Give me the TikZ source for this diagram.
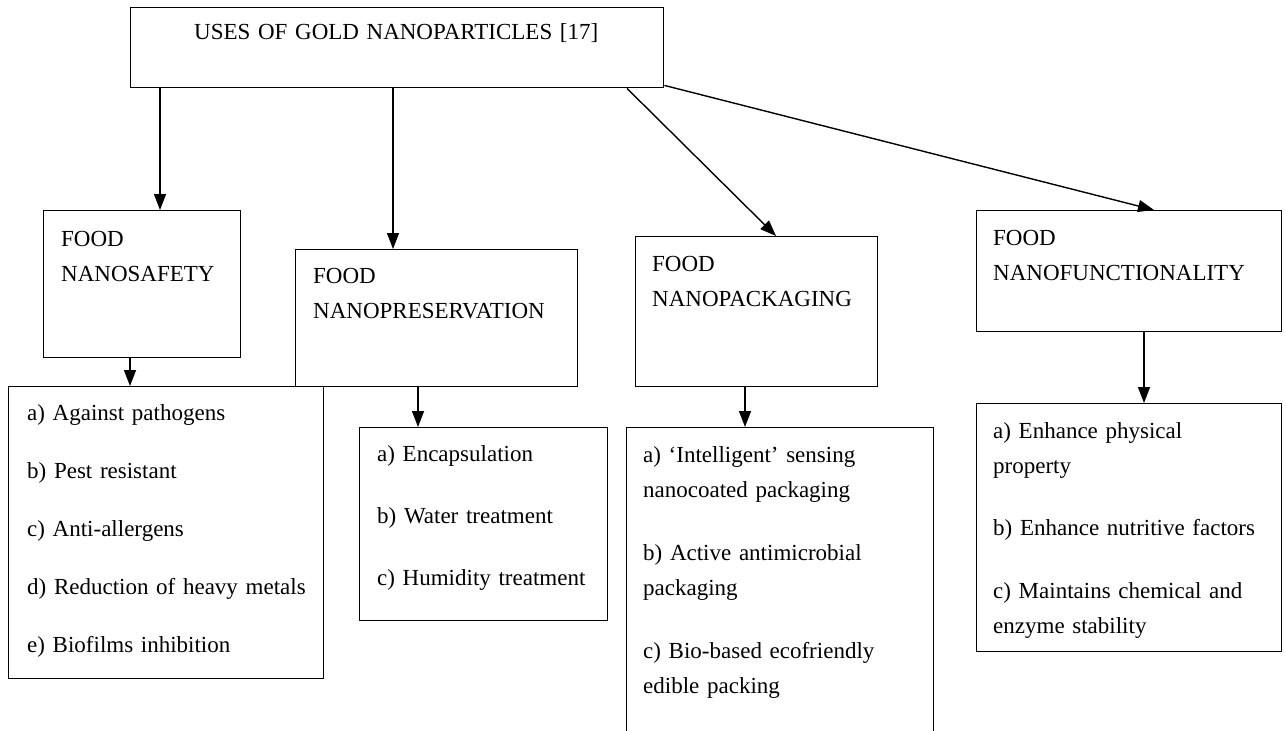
\documentclass[tikz,border=0pt]{standalone}
\usepackage{fontspec}
\setmainfont{Liberation Serif}
\usetikzlibrary{arrows.meta}

\tikzset{
  box/.style={draw, line width=1.4pt, inner sep=0pt, anchor=north west},
  txt/.style={inner sep=0pt, anchor=base west, text width=520pt, align=left,
    font=\fontsize{23}{35}\selectfont},
  arr/.style={line width=1.4pt, -{Triangle[length=16pt,width=12pt]}}
}

\begin{document}
\begin{tikzpicture}[x=1pt, y=-1pt]
    \useasboundingbox (0,0) rectangle (1286,731);
    \clip (0,0) rectangle (1286,731);

    % Define the boxes
    \node[box, minimum width=533, minimum height=80]  (uses)         at (130,7) {};
    \node[box, minimum width=197, minimum height=147] (safety)       at (43,210) {};
    \node[box, minimum width=282, minimum height=137] (preservation) at (295,249) {};
    \node[box, minimum width=242, minimum height=150] (packaging)    at (635,236) {};
    \node[box, minimum width=305, minimum height=121] (funct)        at (976,210) {};
    \node[box, minimum width=315, minimum height=292] (safetylist)   at (8,386) {};
    \node[box, minimum width=248, minimum height=193] (preslist)     at (359,427) {};
    \node[box, minimum width=307, minimum height=330] (packlist)     at (626,427) {};
    \node[box, minimum width=305, minimum height=248] (functlist)    at (976,403) {};

    % Texts of the boxes
    \node[txt] (usestext) at ([shift={(64,32)}]uses.north west) {USES OF GOLD NANOPARTICLES [17]};
    \node[txt] (safetytext) at ([shift={(18,36)}]safety.north west) {FOOD\\NANOSAFETY};
    \node[txt] (prestext) at ([shift={(18,34)}]preservation.north west) {FOOD\\NANOPRESERVATION};
    \node[txt] (packtext) at ([shift={(17,35)}]packaging.north west) {FOOD\\NANOPACKAGING};
    \node[txt] (functtext) at ([shift={(17,35)}]funct.north west) {FOOD\\NANOFUNCTIONALITY};

    \node[txt] (safetyitems) at ([shift={(19,34)}]safetylist.north west)
      {a) Against pathogens\\[23pt]
       b) Pest resistant\\[23pt]
       c) Anti-allergens\\[23pt]
       d) Reduction of heavy metals\\[23pt]
       e) Biofilms inhibition};
    \node[txt] (presitems) at ([shift={(18,34)}]preslist.north west)
      {a) Encapsulation\\[27pt]
       b) Water treatment\\[27pt]
       c) Humidity treatment};
    \node[txt] (packitems) at ([shift={(17,35)}]packlist.north west)
      {a) ‘Intelligent’ sensing\\
       nanocoated packaging\\[28pt]
       b) Active antimicrobial\\
       packaging\\[28pt]
       c) Bio-based ecofriendly\\
       edible packing};
    \node[txt] (functitems) at ([shift={(17,35)}]functlist.north west)
      {a) Enhance physical\\
       property\\[27pt]
       b) Enhance nutritive factors\\[28pt]
       c) Maintains chemical and\\
       enzyme stability};

    % Draw the arrows
    \draw[arr] ([xshift=30]uses.south west) -- ([xshift=30]uses.south west |- safety.north);
    \draw[arr] ([xshift=263]uses.south west) -- ([xshift=263]uses.south west |- preservation.north);
    \draw[arr] ([xshift=497]uses.south west) -- ([xshift=141]packaging.north west);
    \draw[arr] ([yshift=3pt]uses.south east) -- ([xshift=178]funct.north west);

    \draw[arr] ([xshift=87]safety.south west) -- ([xshift=87]safety.south west |- safetylist.north);
    \draw[arr] ([xshift=123]preservation.south west) -- ([xshift=123]preservation.south west |- preslist.north);
    \draw[arr] ([xshift=110]packaging.south west) -- ([xshift=110]packaging.south west |- packlist.north);
    \draw[arr] ([xshift=168]funct.south west) -- ([xshift=168]funct.south west |- functlist.north);
\end{tikzpicture}
\end{document}
